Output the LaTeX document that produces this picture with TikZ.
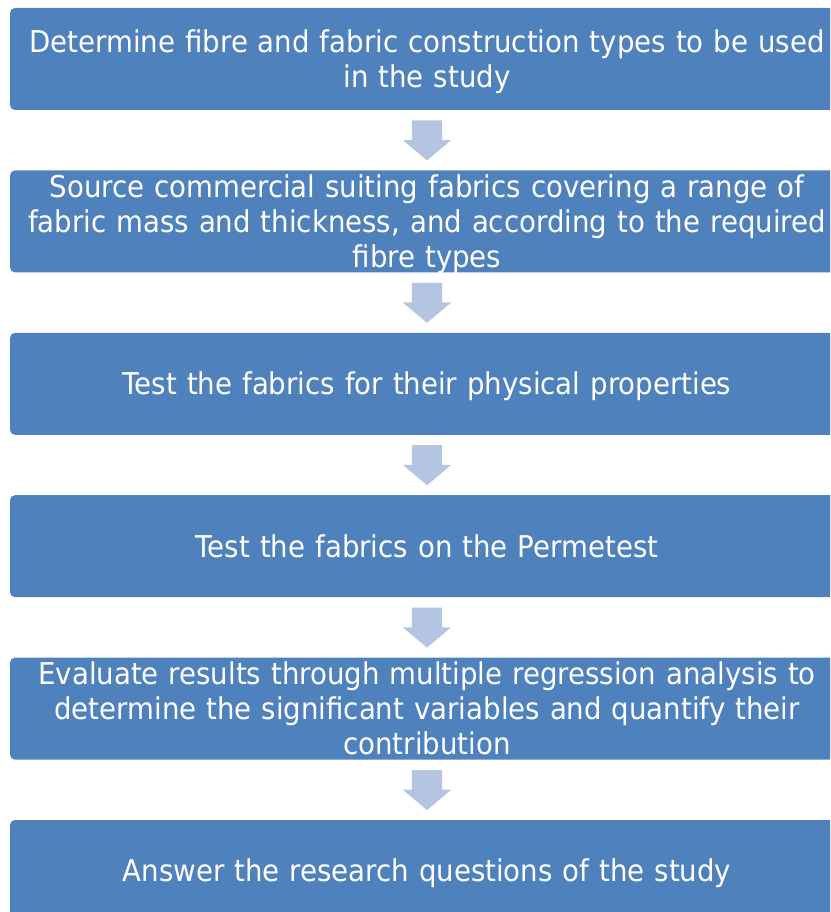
\documentclass[tikz,border=0pt]{standalone}
\usepackage{fontspec}
\setmainfont[FakeStretch=0.92]{DejaVu Sans}
\usetikzlibrary{positioning, calc, shapes.arrows}
\definecolor{fpblue}{HTML}{4F81BD}
\definecolor{fplight}{HTML}{B3C5E1}
\tikzset{
  fp box/.style={fill=fpblue, rounded corners=5pt, text=white, align=center,
    text width=810pt, inner xsep=12pt, inner ysep=0pt, minimum height=102pt,
    font=\fontsize{30}{35}\selectfont, text height=26.85pt, fp lines=1},
  fp lines/.style={text depth={(#1-1)*35pt+5.15pt}},
  fp arrow/.style={single arrow, fill=fplight, draw=none, rotate=-90,
    anchor=tail, minimum height=40pt, inner xsep=0pt, inner ysep=15pt,
    single arrow head extend=9pt, single arrow tip angle=100},
}
\begin{document}
\begin{tikzpicture}[node distance=60pt]
 \useasboundingbox (0,0) rectangle (830pt,-912pt);
 \clip (0,0) rectangle (830pt,-912pt);
 \node[fp box, fp lines=2] (define) at (427pt,-59pt)
   {Determine fibre and fabric construction types to be used\\in the study};
 \node[fp box, fp lines=3, below=of define] (source)
   {Source commercial suiting fabrics covering a range of\\fabric mass and thickness, and according to the required\\fibre types};
 \node[fp box, below=of source] (phys) {Test the fabrics for their physical properties};
 \node[fp box, below=of phys] (perm) {Test the fabrics on the Permetest};
 \node[fp box, fp lines=3, below=of perm] (eval)
   {Evaluate results through multiple regression analysis to\\determine the significant variables and quantify their\\contribution};
 \node[fp box, below=of eval] (answer) {Answer the research questions of the study};
 % block arrows between the steps
 \node[fp arrow] (a1) at ($(define.south)+(0,-10pt)$) {};
 \node[fp arrow] (a2) at ($(source.south)+(0,-10pt)$) {};
 \node[fp arrow] (a3) at ($(phys.south)+(0,-10pt)$) {};
 \node[fp arrow] (a4) at ($(perm.south)+(0,-10pt)$) {};
 \node[fp arrow] (a5) at ($(eval.south)+(0,-10pt)$) {};
\end{tikzpicture}
\end{document}
